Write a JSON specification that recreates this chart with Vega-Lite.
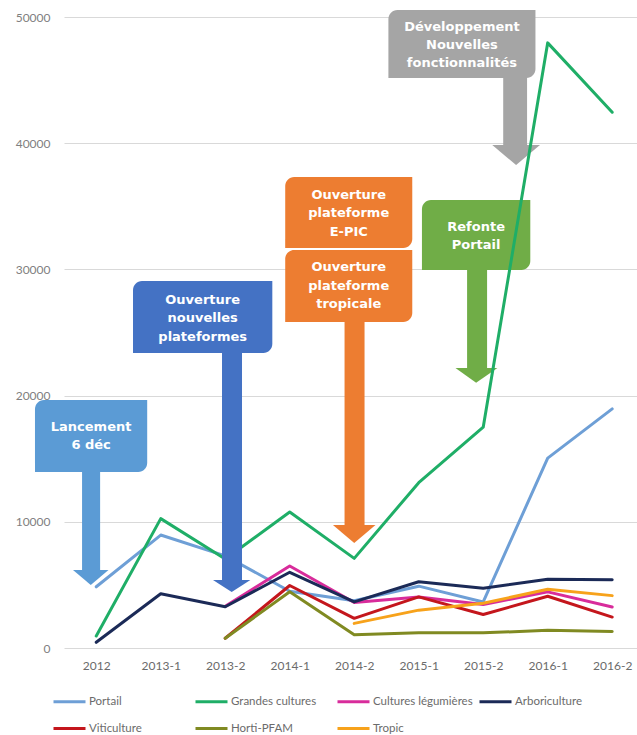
{
  "$schema": "https://vega.github.io/schema/vega-lite/v6.json",
  "width": 574,
  "height": 631,
  "autosize": "none",
  "padding": {"left": 64, "top": 17, "right": 0, "bottom": 87},
  "background": "white",
  "config": {
    "view": {"stroke": null},
    "font": "Lato",
    "legend": {
      "orient": "none",
      "legendX": -12,
      "legendY": 667,
      "direction": "horizontal",
      "columns": 4,
      "gridAlign": "all",
      "symbolType": "stroke",
      "symbolSize": 1024,
      "symbolStrokeWidth": 3,
      "symbolOffset": 0,
      "labelOffset": 2,
      "labelFont": "Lato",
      "labelFontSize": 11.5,
      "labelColor": "#6B6B6B",
      "columnPadding": 0,
      "rowPadding": 3,
      "title": null
    }
  },
  "datasets": {
    "lines": [
      {"s": "Portail", "x": 0, "y": 4850},
      {"s": "Portail", "x": 1, "y": 8950},
      {"s": "Portail", "x": 2, "y": 7300},
      {"s": "Portail", "x": 3, "y": 4500},
      {"s": "Portail", "x": 4, "y": 3750},
      {"s": "Portail", "x": 5, "y": 4900},
      {"s": "Portail", "x": 6, "y": 3650},
      {"s": "Portail", "x": 7, "y": 15050},
      {"s": "Portail", "x": 8, "y": 18950},
      {"s": "Grandes cultures", "x": 0, "y": 950},
      {"s": "Grandes cultures", "x": 1, "y": 10250},
      {"s": "Grandes cultures", "x": 2, "y": 7050},
      {"s": "Grandes cultures", "x": 3, "y": 10770},
      {"s": "Grandes cultures", "x": 4, "y": 7100},
      {"s": "Grandes cultures", "x": 5, "y": 13100},
      {"s": "Grandes cultures", "x": 6, "y": 17500},
      {"s": "Grandes cultures", "x": 7, "y": 47950},
      {"s": "Grandes cultures", "x": 8, "y": 42450},
      {"s": "Cultures légumières", "x": 2, "y": 3300},
      {"s": "Cultures légumières", "x": 3, "y": 6500},
      {"s": "Cultures légumières", "x": 4, "y": 3600},
      {"s": "Cultures légumières", "x": 5, "y": 4050},
      {"s": "Cultures légumières", "x": 6, "y": 3450},
      {"s": "Cultures légumières", "x": 7, "y": 4450},
      {"s": "Cultures légumières", "x": 8, "y": 3250},
      {"s": "Arboriculture", "x": 0, "y": 450},
      {"s": "Arboriculture", "x": 1, "y": 4300},
      {"s": "Arboriculture", "x": 2, "y": 3270},
      {"s": "Arboriculture", "x": 3, "y": 6000},
      {"s": "Arboriculture", "x": 4, "y": 3650},
      {"s": "Arboriculture", "x": 5, "y": 5250},
      {"s": "Arboriculture", "x": 6, "y": 4730},
      {"s": "Arboriculture", "x": 7, "y": 5450},
      {"s": "Arboriculture", "x": 8, "y": 5400},
      {"s": "Viticulture", "x": 2, "y": 770},
      {"s": "Viticulture", "x": 3, "y": 4950},
      {"s": "Viticulture", "x": 4, "y": 2350},
      {"s": "Viticulture", "x": 5, "y": 4050},
      {"s": "Viticulture", "x": 6, "y": 2650},
      {"s": "Viticulture", "x": 7, "y": 4100},
      {"s": "Viticulture", "x": 8, "y": 2450},
      {"s": "Horti-PFAM", "x": 2, "y": 770},
      {"s": "Horti-PFAM", "x": 3, "y": 4460},
      {"s": "Horti-PFAM", "x": 4, "y": 1050},
      {"s": "Horti-PFAM", "x": 5, "y": 1200},
      {"s": "Horti-PFAM", "x": 6, "y": 1200},
      {"s": "Horti-PFAM", "x": 7, "y": 1400},
      {"s": "Horti-PFAM", "x": 8, "y": 1300},
      {"s": "Tropic", "x": 4, "y": 1950},
      {"s": "Tropic", "x": 5, "y": 3000},
      {"s": "Tropic", "x": 6, "y": 3550},
      {"s": "Tropic", "x": 7, "y": 4650},
      {"s": "Tropic", "x": 8, "y": 4150}
    ],
    "boxes": [
      {"c": "lancement", "x": -0.95, "x2": 0.79, "y": 19650, "y2": 13950},
      {"c": "nouvelles", "x": 0.57, "x2": 2.73, "y": 29080, "y2": 23380},
      {"c": "epic", "x": 2.93, "x2": 4.9, "y": 37320, "y2": 31700},
      {"c": "tropicale", "x": 2.93, "x2": 4.9, "y": 31540, "y2": 25830},
      {"c": "refonte", "x": 5.05, "x2": 6.73, "y": 35500, "y2": 29950},
      {"c": "dev", "x": 4.53, "x2": 6.81, "y": 50550, "y2": 45170}
    ],
    "shafts": [
      {"c": "lancement", "x": -0.22, "x2": 0.06, "y": 13950, "y2": 6030},
      {"c": "nouvelles", "x": 1.95, "x2": 2.26, "y": 23380, "y2": 5240},
      {"c": "tropicale", "x": 3.85, "x2": 4.16, "y": 25830, "y2": 9600},
      {"c": "refonte", "x": 5.75, "x2": 6.06, "y": 29950, "y2": 22040},
      {"c": "dev", "x": 6.31, "x2": 6.68, "y": 45170, "y2": 39710}
    ],
    "heads": [
      {"c": "lancement", "x": -0.36, "y": 6180, "y2": 6180},
      {"c": "lancement", "x": -0.085, "y": 4990, "y2": 6180},
      {"c": "lancement", "x": 0.19, "y": 6180, "y2": 6180},
      {"c": "nouvelles", "x": 1.81, "y": 5390, "y2": 5390},
      {"c": "nouvelles", "x": 2.1, "y": 4440, "y2": 5390},
      {"c": "nouvelles", "x": 2.39, "y": 5390, "y2": 5390},
      {"c": "tropicale", "x": 3.67, "y": 9750, "y2": 9750},
      {"c": "tropicale", "x": 4.0, "y": 8320, "y2": 9750},
      {"c": "tropicale", "x": 4.33, "y": 9750, "y2": 9750},
      {"c": "refonte", "x": 5.57, "y": 22190, "y2": 22190},
      {"c": "refonte", "x": 5.89, "y": 21010, "y2": 22190},
      {"c": "refonte", "x": 6.22, "y": 22190, "y2": 22190},
      {"c": "dev", "x": 6.14, "y": 39860, "y2": 39860},
      {"c": "dev", "x": 6.51, "y": 38270, "y2": 39860},
      {"c": "dev", "x": 6.88, "y": 39860, "y2": 39860}
    ],
    "texts": [
      {"c": "lancement", "x": -0.08, "y": 17510, "t": "Lancement"},
      {"c": "lancement", "x": -0.08, "y": 16090, "t": "6 déc"},
      {"c": "nouvelles", "x": 1.65, "y": 27580, "t": "Ouverture"},
      {"c": "nouvelles", "x": 1.65, "y": 26150, "t": "nouvelles"},
      {"c": "nouvelles", "x": 1.65, "y": 24640, "t": "plateformes"},
      {"c": "epic", "x": 3.915, "y": 35900, "t": "Ouverture"},
      {"c": "epic", "x": 3.915, "y": 34470, "t": "plateforme"},
      {"c": "epic", "x": 3.915, "y": 32960, "t": "E-PIC"},
      {"c": "tropicale", "x": 3.915, "y": 30190, "t": "Ouverture"},
      {"c": "tropicale", "x": 3.915, "y": 28690, "t": "plateforme"},
      {"c": "tropicale", "x": 3.915, "y": 27260, "t": "tropicale"},
      {"c": "refonte", "x": 5.89, "y": 33360, "t": "Refonte"},
      {"c": "refonte", "x": 5.89, "y": 31930, "t": "Portail"},
      {"c": "dev", "x": 5.67, "y": 49210, "t": "Développement"},
      {"c": "dev", "x": 5.67, "y": 47780, "t": "Nouvelles"},
      {"c": "dev", "x": 5.67, "y": 46350, "t": "fonctionnalités"}
    ]
  },
  "encoding": {
    "x": {
      "field": "x",
      "type": "quantitative",
      "scale": {"domain": [-0.5, 8.4], "nice": false, "zero": false},
      "axis": {
        "title": null,
        "values": [0, 1, 2, 3, 4, 5, 6, 7, 8],
        "labelExpr": "['2012','2013-1','2013-2','2014-1','2014-2','2015-1','2015-2','2016-1','2016-2'][datum.value]",
        "grid": false,
        "ticks": false,
        "domain": false,
        "labelFont": "Lato",
        "labelFontSize": 12,
        "labelColor": "#6B6B6B",
        "labelPadding": 12,
        "labelFlush": false,
        "labelOverlap": false
      }
    },
    "y": {
      "field": "y",
      "type": "quantitative",
      "scale": {"domain": [0, 50000], "nice": false, "zero": false},
      "axis": {
        "title": null,
        "values": [0, 10000, 20000, 30000, 40000, 50000],
        "format": "d",
        "grid": true,
        "gridColor": "#D9D9D9",
        "gridWidth": 1,
        "ticks": false,
        "domain": false,
        "labelFont": "Lato",
        "labelFontSize": 12,
        "labelColor": "#7F7F7F",
        "labelPadding": 14,
        "labelFlush": false,
        "labelOverlap": false
      }
    }
  },
  "layer": [
    {
      "data": {"name": "boxes"},
      "transform": [{"filter": "datum.c == 'refonte' || datum.c == 'dev'"}],
      "mark": {"type": "rect", "cornerRadiusTopLeft": 9, "cornerRadiusBottomRight": 9},
      "encoding": {
        "x2": {"field": "x2"},
        "y2": {"field": "y2"},
        "fill": {"field": "c", "type": "nominal", "legend": null,
          "scale": {"domain": ["lancement", "nouvelles", "epic", "tropicale", "refonte", "dev"],
                    "range": ["#5B9BD5", "#4472C4", "#ED7D31", "#ED7D31", "#70AD47", "#A5A5A5"]}}
      }
    },
    {
      "data": {"name": "shafts"},
      "transform": [{"filter": "datum.c == 'refonte' || datum.c == 'dev'"}],
      "mark": {"type": "rect"},
      "encoding": {
        "x2": {"field": "x2"},
        "y2": {"field": "y2"},
        "fill": {"field": "c", "type": "nominal", "legend": null}
      }
    },
    {
      "data": {"name": "heads"},
      "transform": [{"filter": "datum.c == 'refonte' || datum.c == 'dev'"}],
      "mark": {"type": "area", "opacity": 1},
      "encoding": {
        "y": {"field": "y", "type": "quantitative", "stack": null},
        "y2": {"field": "y2"},
        "fill": {"field": "c", "type": "nominal", "legend": null}
      }
    },
    {
      "data": {"name": "texts"},
      "transform": [{"filter": "datum.c == 'refonte' || datum.c == 'dev'"}],
      "mark": {"type": "text", "font": "DejaVu Sans", "fontWeight": "bold", "fontSize": 13, "color": "white", "baseline": "middle", "align": "center"},
      "encoding": {"text": {"field": "t", "type": "nominal"}}
    },
    {
      "data": {"name": "lines"},
      "mark": {"type": "line", "strokeWidth": 3, "strokeJoin": "round", "strokeCap": "round"},
      "encoding": {
        "color": {"field": "s", "type": "nominal",
          "scale": {"domain": ["Portail", "Grandes cultures", "Cultures légumières", "Arboriculture", "Viticulture", "Horti-PFAM", "Tropic"],
                    "range": ["#6E9FD6", "#1FAE67", "#D82C9B", "#1B2A57", "#C4161C", "#808A22", "#F7A21B"]},
          "legend": {}
        },
        "order": {"field": "x", "type": "quantitative"}
      }
    },
    {
      "data": {"name": "boxes"},
      "transform": [{"filter": "datum.c != 'refonte' && datum.c != 'dev'"}],
      "mark": {"type": "rect", "cornerRadiusTopLeft": 9, "cornerRadiusBottomRight": 9},
      "encoding": {
        "x2": {"field": "x2"},
        "y2": {"field": "y2"},
        "fill": {"field": "c", "type": "nominal", "legend": null}
      }
    },
    {
      "data": {"name": "shafts"},
      "transform": [{"filter": "datum.c != 'refonte' && datum.c != 'dev'"}],
      "mark": {"type": "rect"},
      "encoding": {
        "x2": {"field": "x2"},
        "y2": {"field": "y2"},
        "fill": {"field": "c", "type": "nominal", "legend": null}
      }
    },
    {
      "data": {"name": "heads"},
      "transform": [{"filter": "datum.c != 'refonte' && datum.c != 'dev'"}],
      "mark": {"type": "area", "opacity": 1},
      "encoding": {
        "y": {"field": "y", "type": "quantitative", "stack": null},
        "y2": {"field": "y2"},
        "fill": {"field": "c", "type": "nominal", "legend": null}
      }
    },
    {
      "data": {"name": "texts"},
      "transform": [{"filter": "datum.c != 'refonte' && datum.c != 'dev'"}],
      "mark": {"type": "text", "font": "DejaVu Sans", "fontWeight": "bold", "fontSize": 13, "color": "white", "baseline": "middle", "align": "center"},
      "encoding": {"text": {"field": "t", "type": "nominal"}}
    }
  ]
}
